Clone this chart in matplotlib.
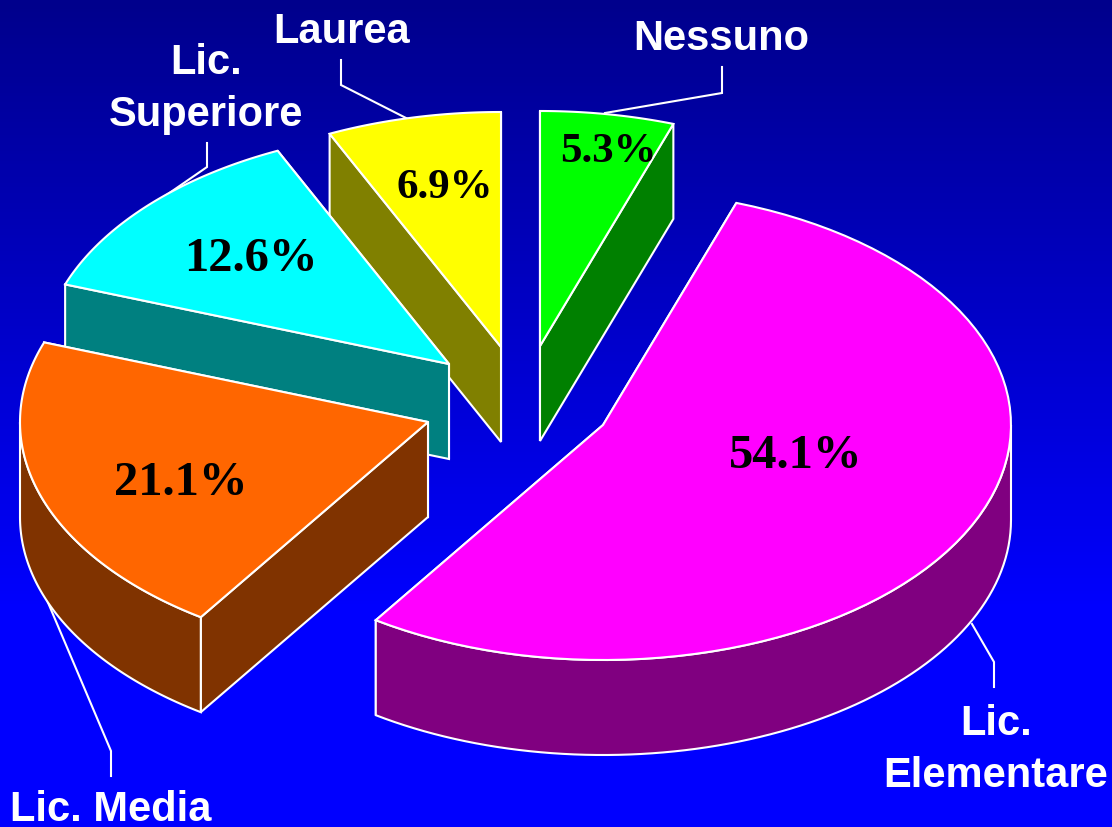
import numpy as np
import matplotlib
matplotlib.use('Agg')
import matplotlib.pyplot as plt
from matplotlib.colors import LinearSegmentedColormap
from matplotlib.patches import Polygon

# Dati
categorie = ['Nessuno', 'Lic.\nElementare', 'Lic. Media', 'Lic.\nSuperiore', 'Laurea']
valori = [5.3, 54.1, 21.1, 12.6, 6.9]

# Colori: faccia superiore e parete
col_top = ['#00FF00', '#FF00FF', '#FF6600', '#00FFFF', '#FFFF00']
col_side = ['#008000', '#800080', '#803300', '#008080', '#808000']

# Geometria della torta (pixel)
rx = 408
ry = 235
depth = 95
apice_x = [540, 603, 428, 449, 501]
apice_y = [347, 426, 423, 365, 348]
ordine = [0, 4, 3, 2, 1]  # da dietro a davanti

# Posizione testi
label_x = [721, 996, 111, 206, 342]
label_y = [39, 750, 810, 89, 32]
perc_x = [608, 796, 181, 251, 445]
perc_y = [152, 456, 483, 259, 188]
perc_size = [31, 35, 35, 35, 31]

# Linee guida
guide_x = [[722, 722, 605], [994, 994, 972], [111, 111, 38], [207, 207, 165], [341, 341, 408]]
guide_y = [[68, 94, 114], [688, 663, 625], [777, 752, 580], [144, 168, 197], [61, 86, 120]]

fig = plt.figure(figsize=(11.12, 8.28), dpi=100)
ax = fig.add_axes([0, 0, 1, 1])
ax.set_xlim(0, 1112)
ax.set_ylim(828, 0)
ax.axis('off')

# Sfondo sfumato
cmap = LinearSegmentedColormap.from_list('sfondo', ['#00008C', '#0000FF'])
grad = np.clip(np.linspace(0, 1.35, 256), 0, 1).reshape(-1, 1)
ax.imshow(grad, cmap=cmap, extent=[0, 1112, 828, 0], aspect='auto', zorder=0)

for gx, gy in zip(guide_x, guide_y):
    ax.plot(gx, gy, color='white', lw=1.5, zorder=1, solid_joinstyle='miter')


def punto(i, t):
    a = np.radians(t)
    return apice_x[i] + rx * np.sin(a), apice_y[i] - ry * np.cos(a)


def faccia(pts, col, z):
    ax.add_patch(Polygon(pts, closed=True, facecolor=col, edgecolor='white',
                         lw=1.5, joinstyle='miter', zorder=z))


angoli = np.concatenate([[0], np.cumsum(valori) / np.sum(valori) * 360])
z = 2
for i in ordine:
    t0, t1 = angoli[i], angoli[i + 1]
    ax_, ay_ = apice_x[i], apice_y[i]

    # Pareti di taglio (prima quella dietro)
    for t in sorted((t0, t1), key=lambda a: -np.cos(np.radians(a))):
        px, py = punto(i, t)
        faccia([(ax_, ay_), (px, py), (px, py + depth), (ax_, ay_ + depth)], col_side[i], z)
        z += 1

    # Parete esterna visibile
    r0, r1 = max(t0, 90), min(t1, 270)
    if r1 > r0:
        tt = np.linspace(r0, r1, 80)
        xs, ys = punto(i, tt)
        pts = list(zip(xs, ys)) + list(zip(xs[::-1], ys[::-1] + depth))
        faccia(pts, col_side[i], z)
        z += 1

    # Faccia superiore
    tt = np.linspace(t0, t1, 80)
    xs, ys = punto(i, tt)
    faccia([(ax_, ay_)] + list(zip(xs, ys)), col_top[i], z)
    z += 1

for i in range(len(valori)):
    ax.text(label_x[i], label_y[i], categorie[i], color='white', fontsize=30,
            family='Liberation Sans', weight='bold', ha='center', va='center',
            linespacing=1.36, zorder=50)
    ax.text(perc_x[i], perc_y[i], f'{valori[i]}%', color='black', fontsize=perc_size[i],
            family='Liberation Serif', weight='bold', ha='center', va='center', zorder=50)

fig.savefig('out.png', dpi=100)
